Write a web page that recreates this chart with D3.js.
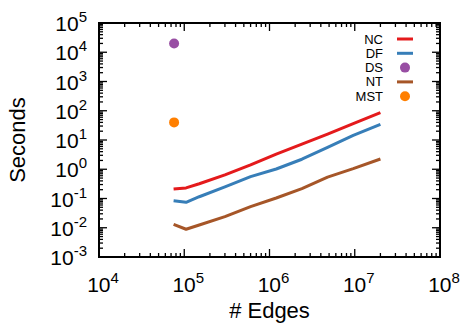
<!DOCTYPE html>
<html>
<head>
<meta charset="utf-8">
<script src="https://cdn.jsdelivr.net/npm/d3@7"></script>
<style>
  body { margin: 0; background: #fff; }
  text { font-family: "Liberation Sans", Arial, sans-serif; fill: #000; }
</style>
</head>
<body>
<svg width="460" height="330"></svg>
<script>
// data
const edges = [7.5e4, 1.05e5, 1.5e5, 3e5, 6e5, 1.2e6, 2.4e6, 4.8e6, 9.6e6, 2e7];
const ncSeconds = [0.21, 0.23, 0.32, 0.64, 1.4, 3.3, 7.2, 16, 36, 86];
const dfSeconds = [0.084, 0.074, 0.115, 0.25, 0.56, 1.02, 2.2, 5.6, 14.3, 34];
const ntSeconds = [0.0131, 0.0089, 0.0124, 0.024, 0.053, 0.104, 0.218, 0.54, 1.05, 2.24];
const dsPoint = {edges: 7.6e4, seconds: 2e4};
const mstPoint = {edges: 7.6e4, seconds: 40};

const xTickExps = [4, 5, 6, 7, 8];
const yTickExps = [-3, -2, -1, 0, 1, 2, 3, 4, 5];

const series = [
    {name: "NC", kind: "line", color: "#e41a1c", values: ncSeconds},
    {name: "DF", kind: "line", color: "#377eb8", values: dfSeconds},
    {name: "DS", kind: "point", color: "#984ea3", point: dsPoint},
    {name: "NT", kind: "line", color: "#a65628", values: ntSeconds},
    {name: "MST", kind: "point", color: "#ff7f00", point: mstPoint}
];

const plotL = 99, plotR = 440, plotT = 23, plotB = 257;

const svg = d3.select("svg");

const x = d3.scaleLog().domain([1e4, 1e8]).range([plotL, plotR]);
const y = d3.scaleLog().domain([1e-3, 1e5]).range([plotB, plotT]);

// ticks on all four sides, pointing inward
const ticks = svg.append("g").attr("stroke", "#000").attr("stroke-width", 1.3);
const minorX = [], minorY = [];
for (let e = 4; e < 8; e++) for (let m = 2; m <= 9; m++) minorX.push(m * Math.pow(10, e));
for (let e = -3; e < 5; e++) for (let m = 2; m <= 9; m++) minorY.push(m * Math.pow(10, e));

xTickExps.forEach(e => {
    const px = x(Math.pow(10, e));
    ticks.append("line").attr("x1", px).attr("x2", px).attr("y1", plotB).attr("y2", plotB - 8);
    ticks.append("line").attr("x1", px).attr("x2", px).attr("y1", plotT).attr("y2", plotT + 8);
});
minorX.forEach(v => {
    const px = x(v);
    ticks.append("line").attr("x1", px).attr("x2", px).attr("y1", plotB).attr("y2", plotB - 4);
    ticks.append("line").attr("x1", px).attr("x2", px).attr("y1", plotT).attr("y2", plotT + 4);
});
yTickExps.forEach(e => {
    const py = y(Math.pow(10, e));
    ticks.append("line").attr("x1", plotL).attr("x2", plotL + 8).attr("y1", py).attr("y2", py);
    ticks.append("line").attr("x1", plotR).attr("x2", plotR - 8).attr("y1", py).attr("y2", py);
});
minorY.forEach(v => {
    const py = y(v);
    ticks.append("line").attr("x1", plotL).attr("x2", plotL + 4).attr("y1", py).attr("y2", py);
    ticks.append("line").attr("x1", plotR).attr("x2", plotR - 4).attr("y1", py).attr("y2", py);
});

// tick labels 10^n
function powLabel(sel, e) {
    sel.append("tspan").text("10");
    sel.append("tspan").attr("font-size", 15).attr("dy", -9).text(e);
}
xTickExps.forEach(e => {
    const t = svg.append("text")
        .attr("x", x(Math.pow(10, e)) + 4)
        .attr("y", 292)
        .attr("text-anchor", "middle")
        .attr("font-size", 21);
    powLabel(t, e);
});
yTickExps.forEach(e => {
    const t = svg.append("text")
        .attr("x", 87)
        .attr("y", y(Math.pow(10, e)) + 8)
        .attr("text-anchor", "end")
        .attr("font-size", 21);
    powLabel(t, e);
});

// axis titles
svg.append("text")
    .attr("x", (plotL + plotR) / 2)
    .attr("y", 318)
    .attr("text-anchor", "middle")
    .attr("font-size", 22)
    .text("# Edges");
svg.append("text")
    .attr("transform", `translate(25,${(plotT + plotB) / 2}) rotate(-90)`)
    .attr("text-anchor", "middle")
    .attr("font-size", 22)
    .text("Seconds");

// series
const line = d3.line()
    .x((d, i) => x(edges[i]))
    .y(d => y(d));

series.forEach(s => {
    if (s.kind === "line") {
        svg.append("path")
            .attr("d", line(s.values))
            .attr("fill", "none")
            .attr("stroke", s.color)
            .attr("stroke-width", 3)
            .attr("stroke-linejoin", "round");
    } else {
        svg.append("circle")
            .attr("cx", x(s.point.edges))
            .attr("cy", y(s.point.seconds))
            .attr("r", 5)
            .attr("fill", s.color);
    }
});

// legend
const legend = svg.append("g");
series.forEach((s, i) => {
    const ly = 39 + i * 14.3;
    legend.append("text")
        .attr("x", 383)
        .attr("y", ly + 4.5)
        .attr("text-anchor", "end")
        .attr("font-size", 13)
        .text(s.name);
    if (s.kind === "line") {
        legend.append("line")
            .attr("x1", 397).attr("x2", 413)
            .attr("y1", ly).attr("y2", ly)
            .attr("stroke", s.color)
            .attr("stroke-width", 3);
    } else {
        legend.append("circle")
            .attr("cx", 405).attr("cy", ly)
            .attr("r", 5)
            .attr("fill", s.color);
    }
});

// frame
svg.append("rect")
    .attr("x", plotL).attr("y", plotT)
    .attr("width", plotR - plotL).attr("height", plotB - plotT)
    .attr("fill", "none")
    .attr("stroke", "#000")
    .attr("stroke-width", 2);
</script>
</body>
</html>
